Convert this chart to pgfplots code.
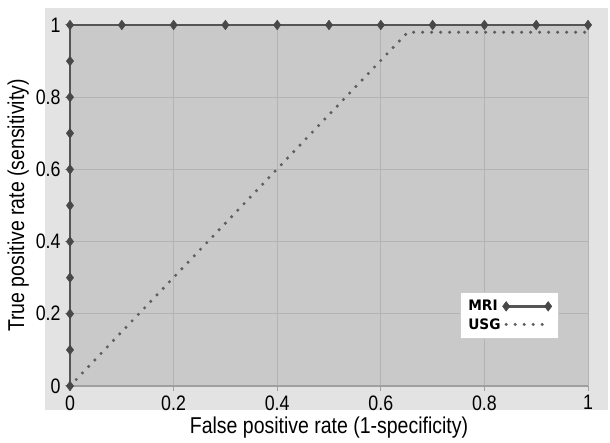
\documentclass[border=0pt]{standalone}
\usepackage{fontspec}
\setmainfont{Liberation Sans}[FakeStretch=0.85]
\newfontfamily\legfont{DejaVu Sans}[FakeStretch=0.95]
\usepackage{pgfplots}
\pgfplotsset{compat=1.18}
\definecolor{outerbg}{HTML}{E3E3E3}
\definecolor{plotbg}{HTML}{C9C9C9}
\definecolor{gridc}{HTML}{B3B3B3}
\definecolor{mric}{HTML}{555555}
\definecolor{usgc}{HTML}{5E5E5E}
\begin{document}
\begin{tikzpicture}[x=1bp,y=1bp]
\useasboundingbox (0,0) rectangle (610,443);
\fill[outerbg] (45,33) rectangle (608,435);
\begin{axis}[
  at={(70bp,57bp)}, anchor=south west,
  scale only axis, width=518bp, height=361bp,
  xmin=0, xmax=1, ymin=0, ymax=1,
  xtick={0,0.2,0.4,0.6,0.8,1}, ytick={0,0.2,0.4,0.6,0.8,1},
  xticklabels={0,0.2,0.4,0.6,0.8,1}, yticklabels={0,0.2,0.4,0.6,0.8,1},
  axis background/.style={fill=plotbg},
  grid=major, major grid style={gridc, line width=0.8bp},
  axis lines=left, axis line style={-, gray!75, line width=1.2bp},
  tick style={gray!75, line width=1bp}, tick align=outside, major tick length=5bp,
  tick label style={font=\fontsize{21}{24}\selectfont, black},
  xticklabel style={yshift=-1bp}, yticklabel style={xshift=-1bp},
  xlabel={False positive rate (1-specificity)},
  ylabel={True positive rate (sensitivity)},
  label style={font=\fontsize{23}{26}\selectfont},
  xlabel style={at={(axis description cs:0.5,-0.116)}, anchor=center},
  ylabel style={at={(axis description cs:-0.1,0.5)}, anchor=center},
  clip=false,
  legend style={at={(0.942,0.26)}, anchor=north east, draw=gray!40, fill=white,
    font=\legfont\bfseries\fontsize{14.5}{17}\selectfont, inner xsep=6bp, inner ysep=6bp, row sep=2bp},
  legend cell align=left, legend plot pos=right,
  legend image code/.code={\draw[mark repeat=1,#1] plot coordinates {(0bp,0bp) (42bp,0bp)};},
]
\addplot[mric, line width=2.6bp, mark=diamond*, mark size=4.8bp, mark options={solid, fill=mric!85!black, draw=mric!85!black, line width=0.5bp}] coordinates {
(0,0) (0,0.1) (0,0.2) (0,0.3) (0,0.4) (0,0.5) (0,0.6) (0,0.7) (0,0.8) (0,0.9) (0,1)
(0.1,1) (0.2,1) (0.3,1) (0.4,1) (0.5,1) (0.6,1) (0.7,1) (0.8,1) (0.9,1) (1,1)
};
\addplot[usgc, line width=3.4bp, line cap=round, dash pattern=on 0bp off 9bp] coordinates {
(0,0) (0.652,0.98) (1,0.98)
};
\legend{MRI,USG}
\end{axis}
\end{tikzpicture}
\end{document}
